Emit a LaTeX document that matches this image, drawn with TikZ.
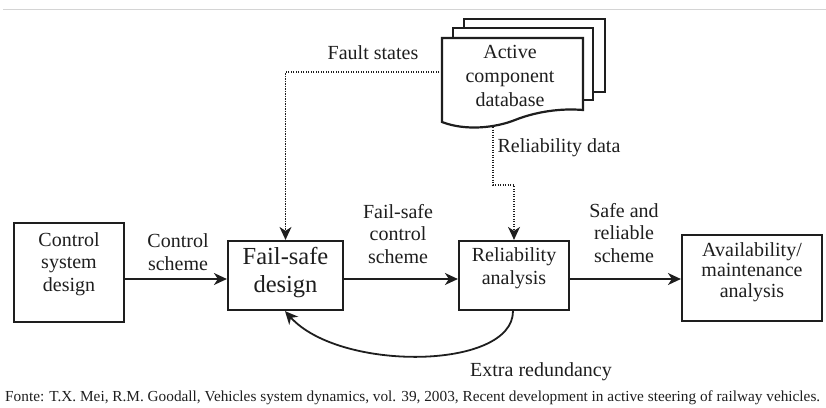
\documentclass[tikz,border=0pt]{standalone}
\usepackage{fontspec}
\usepackage{graphicx}
\setmainfont{Liberation Serif}
\usetikzlibrary{arrows.meta,calc}
\definecolor{ink}{HTML}{1E1E1E}
\definecolor{rulegray}{HTML}{D4D4D4}
\begin{document}
\begin{tikzpicture}[x=1pt,y=-1pt,
  box/.style={draw=ink, line width=2.2pt, inner sep=0pt, fill=white},
  lbl/.style={text=ink, font=\fontsize{20}{22.5}\selectfont, align=center, inner sep=0pt},
  biglbl/.style={text=ink, font=\fontsize{24.5}{28}\selectfont, align=center, inner sep=0pt},
  arr/.style={draw=ink, line width=1.8pt, -{Stealth[length=13pt,width=12pt,inset=4pt]}},
  dotarr/.style={draw=ink, line width=1.4pt, dash pattern=on 1.3pt off 1.2pt,
                 -{Stealth[length=13pt,width=12pt,inset=4pt]}},
  sheet/.style={draw=ink, line width=2.2pt, fill=white, line join=miter}
]
\useasboundingbox (0,0) rectangle (826,407);

% thin rule along the top
\draw[rulegray, line width=1pt] (3,9) -- (826,9);

% main chain of boxes
\node[box, minimum width=110pt, minimum height=99pt] (ctrl) at (69,272.5) {};
\node[lbl] (ctrltxt) at (69,264) {Control\\system\\design};

\node[box, minimum width=115pt, minimum height=69pt] (fs) at (285.5,275.5) {};
\node[biglbl] (fstxt) at (285.5,273) {Fail-safe\\design};

\node[box, minimum width=110pt, minimum height=69pt] (rel) at (514,275.5) {};
\node[lbl] (reltxt) at (514,268) {Reliability\\analysis};

\node[box, minimum width=140pt, minimum height=86pt] (avail) at (752,278) {};
\node[lbl, font=\fontsize{20}{20.5}\selectfont] (availtxt) at (752,272) {Availability/\\maintenance\\analysis};

% stacked document: component database
\draw[sheet] (464,19) rectangle (605,92);
\draw[sheet] (453,28) rectangle (593,100);
\draw[sheet] (442,38) -- (583,38) -- (583,110)
  .. controls (560,108) and (535,112) .. (515,120)
  .. controls (495,128) and (465,131) .. (442,122) -- cycle;
\node[inner sep=0pt, minimum width=141pt, minimum height=84pt] (db) at (512.5,80) {};
\node[lbl, font=\fontsize{20}{24}\selectfont] (dbtxt) at (510,76) {Active\\component\\database};
\coordinate (dbout) at (493,127);

% forward flow
\draw[arr] (ctrl.east |- 0,279) -- (fs.west |- 0,279);
\draw[arr] (fs.east |- 0,279) -- (rel.west |- 0,279);
\draw[arr] (rel.east |- 0,279) -- (avail.west |- 0,279);

% data from the database
\draw[dotarr] (db.west |- 0,72) -| (fs.north);
\draw[dotarr] (dbout) -- (493,185) -- (514,185) -- (rel.north);

% feedback loop
\draw[arr] (rel.south -| 513,0) .. controls (513,370) and (340,372) .. (fs.south -| 285,0);

% labels
\node[lbl] (lcs) at (178,252) {Control\\scheme};
\node[lbl] (lfcs) at (398,234) {Fail-safe\\control\\scheme};
\node[lbl] (lsrs) at (624,233) {Safe and\\reliable\\scheme};
\node[lbl] (lfault) at (373,53) {Fault states};
\node[lbl] (lreld) at (559,148) {Reliability data};
\node[lbl] (lextra) at (541,372) {Extra redundancy};

% source line
\node[text=ink, anchor=west, inner sep=0pt] (src) at (5,398)
  {\resizebox{815pt}{!}{\fontsize{13}{15}\selectfont Fonte: T.X. Mei, R.M. Goodall, Vehicles system dynamics, vol. 39, 2003, Recent development in active steering of railway vehicles.}};
\end{tikzpicture}
\end{document}
